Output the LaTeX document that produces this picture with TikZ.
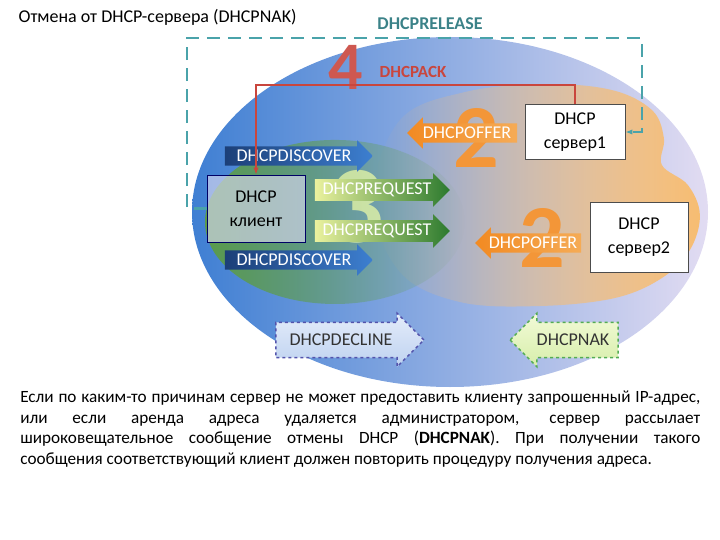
\documentclass[tikz,border=0pt]{standalone}
\usepackage{fontspec}
\setmainfont{Carlito}
\usetikzlibrary{shapes.arrows,positioning,arrows.meta,fadings}

\definecolor{relteal}{HTML}{4AA3AA}
\definecolor{ackred}{HTML}{C9463D}
\definecolor{offerorange}{HTML}{F28A22}
\definecolor{reqgreen}{HTML}{2C7A2E}
\definecolor{discblue}{HTML}{3D7FD0}
\definecolor{discnavy}{HTML}{1C3F78}
\definecolor{peach}{HTML}{F7BD72}
\definecolor{leafgreen}{HTML}{5E9E3C}

\tikzfading[name=fadeorange, left color=transparent!100, middle color=transparent!15,
            right color=transparent!0]
\tikzfading[name=fadegreen, left color=transparent!10, right color=transparent!100]

\begin{document}
\begin{tikzpicture}[x=1pt,y=-1pt,semithick,
    font=\fontsize{18}{20}\selectfont]

  \tikzstyle{msg}=[single arrow, single arrow head extend=6pt, inner xsep=3pt,
                   inner ysep=3.5pt, text=white]
  \tikzstyle{box}=[draw=black!70, fill=white, align=center, minimum width=100pt,
                   minimum height=55pt, font=\fontsize{18}{24}\selectfont]
  \tikzstyle{bignum}=[font=\fontsize{90}{90}\selectfont\bfseries]
  \tikzstyle{failmsg}=[single arrow, single arrow head extend=9pt, inner xsep=6pt,
                   inner ysep=11pt, dashed, line width=1.5pt, text=black!80]

  \useasboundingbox (0,0) rectangle (720,540);

  % background clouds
  \shade[left color={rgb,255:red,63;green,127;blue,211}, middle color={rgb,255:red,140;green,187;blue,238},
         right color={rgb,255:red,226;green,220;blue,242}]
     (450,212) ellipse [x radius=258, y radius=175];
  \fill[peach, path fading=fadeorange] plot[smooth cycle, tension=0.6] coordinates
     {(372,200) (400,120) (465,92) (545,84) (612,90) (652,110) (664,138) (662,165)
      (688,185) (700,215) (690,250) (662,278) (615,298) (540,306) (460,302) (400,272)};
  \fill[leafgreen, path fading=fadegreen]
     (335,222) ellipse [x radius=130, y radius=82];

  \node at (15,17) [anchor=west] {Отмена от DHCP-сервера (DHCPNAK)};

  % big step numbers
  \node[bignum, text=green!15!yellow!35, opacity=0.7, font=\fontsize{110}{110}\selectfont\bfseries] at (356,207) {3};
  \node[bignum, text=offerorange!90] at (476,138) {2};
  \node[bignum, text=offerorange!90] at (542,238) {2};
  \node[bignum, text=ackred!90, font=\fontsize{68}{68}\selectfont\bfseries] (four) at (346,67) {4};

  % hosts
  \node[box, fill=cyan!25!blue!15, fill opacity=0.65, text opacity=1, draw=blue!40!black,
        minimum width=98pt, minimum height=67pt] (client) at (256,208.5) {DHCP\\клиент};
  \node[box] (srvA) at (575,132) {DHCP\\сервер1};
  \node[box, minimum width=98pt, minimum height=70pt] (srvB) at (639,237) {DHCP\\сервер2};

  % messages
  \node[msg, left color=discnavy, right color=discblue,
        minimum height=148pt] (discA) at (294,156) {DHCPDISCOVER};
  \node[msg, left color=discnavy, right color=discblue,
        minimum height=148pt] (discB) at (294,260) {DHCPDISCOVER};
  \node[msg, left color=reqgreen!25!yellow!40!white, right color=reqgreen,
        minimum height=135pt] (reqA) at (377,190) {DHCPREQUEST};
  \node[msg, left color=reqgreen!25!yellow!40!white, right color=reqgreen,
        minimum height=135pt] (reqB) at (377,231) {DHCPREQUEST};
  \node[msg, left color=offerorange, right color=offerorange!35!peach, shape border rotate=180,
        minimum height=110pt] (offA) at (467,133) {DHCPOFFER};
  \node[msg, left color=offerorange, right color=offerorange!35!peach, shape border rotate=180,
        minimum height=106pt] (offB) at (533,243) {DHCPOFFER};
  \node[failmsg, draw=blue!35!gray, top color={rgb,255:red,228;green,236;blue,250},
        bottom color={rgb,255:red,190;green,210;blue,240},
        minimum height=148pt] (decline) at (341,340) {DHCPDECLINE};
  \node[failmsg, draw=green!35!gray, top color={rgb,255:red,242;green,250;blue,215},
        bottom color={rgb,255:red,215;green,238;blue,170}, shape border rotate=180,
        minimum height=108pt] (nak) at (573,340) {DHCPNAK};

  % DHCPACK
  \coordinate (acktop) at (0,85);
  \draw[ackred, line width=2.5pt, -{Latex[length=7pt]}]
     (srvA.north) -- (srvA.north |- acktop) -| (client.north);
  \node[text=ackred, font=\fontsize{17}{19}\selectfont\bfseries] at (413,72) {DHCPACK};

  % DHCPRELEASE
  \coordinate (relL) at (187,38);
  \coordinate (relR) at (642,38);
  \draw[relteal, line width=2.5pt, dash pattern=on 13pt off 8pt, -{Latex[length=7pt]}]
     (client.west) -| (relL) -- (relR) |- (srvA.east);
  \node[text=relteal!80!black, font=\fontsize{18}{20}\selectfont\bfseries] at (430,24) {DHCPRELEASE};

  % explanation
  \node[anchor=north west, text width=680pt, align=justify, inner sep=0pt,
        font=\fontsize{17.2}{20.4}\selectfont] (note) at (20,391)
    {Если по каким-то причинам сервер не может предоставить клиенту запрошенный IP-адрес,\linebreak
     или если аренда адреса удаляется администратором, сервер рассылает\linebreak
     широковещательное сообщение отмены DHCP (\textbf{DHCPNAK}). При получении такого\linebreak
     сообщения соответствующий клиент должен повторить процедуру получения адреса.};
\end{tikzpicture}
\end{document}
